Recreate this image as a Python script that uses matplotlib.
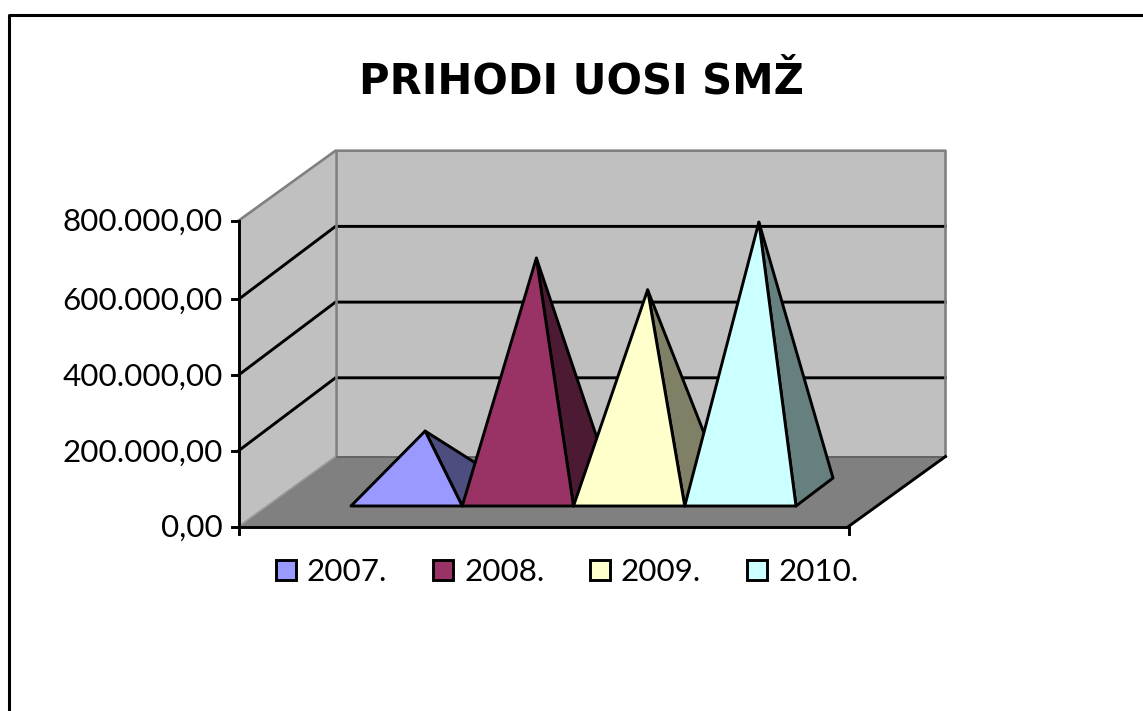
import matplotlib
matplotlib.use("Agg")
import matplotlib.pyplot as plt
from matplotlib.patches import Polygon, Rectangle

categories = ["2007.", "2008.", "2009.", "2010."]
values = [161000, 618000, 534000, 713000]
tick_values = [0, 200000, 400000, 600000, 800000]
tick_labels = ["0,00", "200.000,00", "400.000,00", "600.000,00", "800.000,00"]
face_colors = ["#9999FF", "#993366", "#FFFFCC", "#CCFFFF"]
side_colors = ["#4D4D80", "#4D1A33", "#808066", "#668080"]
title = "PRIHODI UOSI SMŽ"

W, H = 1143, 711
plt.rcParams["font.family"] = ["Lato", "DejaVu Sans"]

fig = plt.figure(figsize=(W / 100, H / 100), dpi=100)
ax = fig.add_axes([0, 0, 1, 1])
ax.set_xlim(0, W)
ax.set_ylim(H, 0)
ax.axis("off")

# projection of the 3D box to pixels
X0, X1, Y0 = 238.5, 848.5, 526.5
DX, DY = 97, -70
PX_PER_UNIT = 75.7 / 200000
TOP_EXTRA = 3  # the wall top sits slightly above the top tick step
GRID_DY = -73  # gridlines climb slightly more than the box edge
n = len(categories)
vmax = tick_values[-1]
WALL_H = vmax * PX_PER_UNIT + TOP_EXTRA


def sx(cat_pos, depth=0.0):
    return X0 + (X1 - X0) * cat_pos / n + DX * depth


def sy(value):
    return Y0 - value * PX_PER_UNIT


black_lw = 2.1
gray_lw = 1.9
GRAY = "#808080"

fl0, fl1 = (sx(0), Y0), (sx(n), Y0)
bl0, bl1 = (sx(0, 1), Y0 + DY), (sx(n, 1), Y0 + DY)
ft0 = (sx(0), Y0 - WALL_H)
bt0, bt1 = (sx(0, 1), Y0 + DY - WALL_H), (sx(n, 1), Y0 + DY - WALL_H)

# walls and floor
ax.add_patch(Polygon([bl0, bl1, bt1, bt0], fc="#C0C0C0", ec="none"))
ax.add_patch(Polygon([fl0, bl0, bt0, ft0], fc="#C0C0C0", ec="none"))
ax.add_patch(Polygon([fl0, fl1, bl1, bl0], fc="#808080", ec="none"))

# gridlines
for t in tick_values[1:-1]:
    y = sy(t)
    ax.plot([sx(0), sx(0, 1), sx(n, 1)], [y, y + GRID_DY, y + GRID_DY], color="black", lw=black_lw)

# wall edges
ax.plot([ft0[0], bt0[0], bt1[0], bl1[0]], [ft0[1], bt0[1], bt1[1], bl1[1]], color=GRAY, lw=gray_lw)
ax.plot([bt0[0], bl0[0]], [bt0[1], bl0[1]], color=GRAY, lw=gray_lw)
ax.plot([bl0[0], bl1[0]], [bl0[1], bl1[1]], color="#606060", lw=1.3)
ax.plot([fl0[0], bl0[0]], [fl0[1], bl0[1]], color="#9A9A9A", lw=1.2)

# axes
ax.plot([fl1[0], bl1[0]], [fl1[1], bl1[1]], color="black", lw=black_lw)
ax.plot([fl0[0], fl1[0]], [fl0[1], fl1[1]], color="black", lw=black_lw)
ax.plot([fl0[0], ft0[0]], [fl0[1], ft0[1]], color="black", lw=black_lw)
for pos in (0, n):
    ax.plot([sx(pos), sx(pos)], [Y0, Y0 + 7], color="black", lw=black_lw)
for t, lab in zip(tick_values, tick_labels):
    y = sy(t) if t < vmax else ft0[1]
    ax.plot([X0 - 7, X0], [y, y], color="black", lw=black_lw)
    ax.text(X0 - 15.5, y + 10.5, lab, ha="right", va="baseline", fontsize=22.6, color="black")

# pyramids
BASE_X, BASE_Y, STEP = 351, 506, 111.25
PD_X, PD_Y = 37, -28
for i, (v, fc, sc) in enumerate(zip(values, face_colors, side_colors)):
    fl = (BASE_X + i * STEP, BASE_Y)
    fr = (fl[0] + STEP, BASE_Y)
    br = (fr[0] + PD_X, BASE_Y + PD_Y)
    apex = (fl[0] + STEP / 2 + PD_X / 2, BASE_Y + PD_Y / 2 - v * PX_PER_UNIT)
    ax.add_patch(Polygon([apex, fr, br], fc=sc, ec="black", lw=black_lw, joinstyle="round", zorder=3 + i))
    ax.add_patch(Polygon([fl, fr, apex], fc=fc, ec="black", lw=black_lw, joinstyle="round", zorder=3 + i))

# title
ax.text(581.5, 94, title, ha="center", va="baseline", fontsize=30, fontweight="bold",
        family=["DejaVu Sans"], color="black")

# legend
legend_x = [276, 433, 590, 747]
for lx, c, fc in zip(legend_x, categories, face_colors):
    ax.add_patch(Rectangle((lx, 560), 19.5, 19.5, fc=fc, ec="black", lw=black_lw))
    ax.text(lx + 31, 581, c, ha="left", va="baseline", fontsize=22.6, color="black")

# chart-area border (runs off the canvas on the right and bottom)
ax.plot([8.5, 8.5, 1160], [730, 15, 15], color="black", lw=2.2, solid_joinstyle="round")

fig.savefig("out.png", dpi=100, facecolor="white")
